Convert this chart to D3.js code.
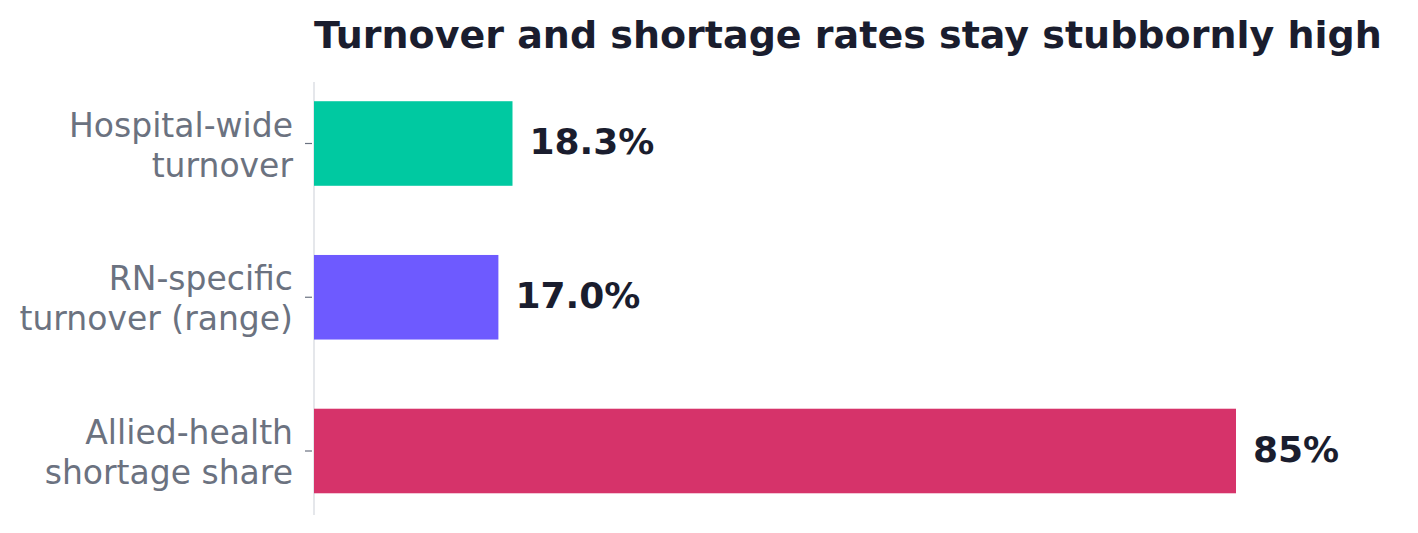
<!DOCTYPE html>
<html>
<head>
<meta charset="utf-8">
<script src="https://cdn.jsdelivr.net/npm/d3@7"></script>
<style>
  body { margin: 0; background: #fff; }
  text { font-family: "DejaVu Sans", sans-serif; }
</style>
</head>
<body>
<figure id="bar" style="margin:0"></figure>
<script>
// chart data
const categories = [["Hospital-wide", "turnover"], ["RN-specific", "turnover (range)"], ["Allied-health", "shortage share"]];
const values = [18.3, 17.0, 85];
const valueLabels = ["18.3%", "17.0%", "85%"];
const colors = ["#00c9a1", "#6e5aff", "#d6336a"];

const width = 1418;
const height = 533;
const left = 314;

const svg = d3.select("figure#bar")
  .append("svg")
  .attr("width", width)
  .attr("height", height);

// title
svg.append("text")
  .attr("x", left)
  .attr("y", 48)
  .attr("font-size", 38)
  .attr("font-weight", "bold")
  .attr("fill", "#1a1d2e")
  .text("Turnover and shortage rates stay stubbornly high");

const x = d3.scaleLinear()
  .domain([0, 85])
  .range([left, 1236]);

const y = d3.scaleBand()
  .domain(d3.range(values.length))
  .range([82, 512.5])
  .paddingInner(0.45)
  .paddingOuter(0.125);

// y axis line
svg.append("line")
  .attr("x1", left).attr("x2", left)
  .attr("y1", 82).attr("y2", 515)
  .attr("stroke", "#e5e7eb")
  .attr("stroke-width", 2);

const rows = svg.selectAll("g.row")
  .data(values)
  .enter()
  .append("g")
  .attr("class", "row");

rows.append("rect")
  .attr("x", x(0))
  .attr("y", (d, i) => y(i))
  .attr("width", d => x(d) - x(0))
  .attr("height", y.bandwidth())
  .attr("fill", (d, i) => colors[i]);

// tick marks
rows.append("line")
  .attr("x1", left - 9).attr("x2", left - 2)
  .attr("y1", (d, i) => y(i) + y.bandwidth() / 2)
  .attr("y2", (d, i) => y(i) + y.bandwidth() / 2)
  .attr("stroke", "#6b7280")
  .attr("stroke-width", 1.2);

// category labels, two lines each
rows.append("text")
  .attr("text-anchor", "end")
  .attr("font-size", 33)
  .attr("fill", "#6b7280")
  .each(function (d, i) {
    const cy = y(i) + y.bandwidth() / 2;
    const t = d3.select(this);
    categories[i].forEach((line, j) => {
      t.append("tspan")
        .attr("x", left - 21)
        .attr("y", cy + (j - 0.5) * 40 + 13)
        .text(line);
    });
  });

// value labels
rows.append("text")
  .attr("x", d => x(d) + 17)
  .attr("y", (d, i) => y(i) + y.bandwidth() / 2)
  .attr("dy", "0.3em")
  .attr("font-size", 36)
  .attr("font-weight", "bold")
  .attr("fill", "#1a1d2e")
  .text((d, i) => valueLabels[i]);
</script>
</body>
</html>
